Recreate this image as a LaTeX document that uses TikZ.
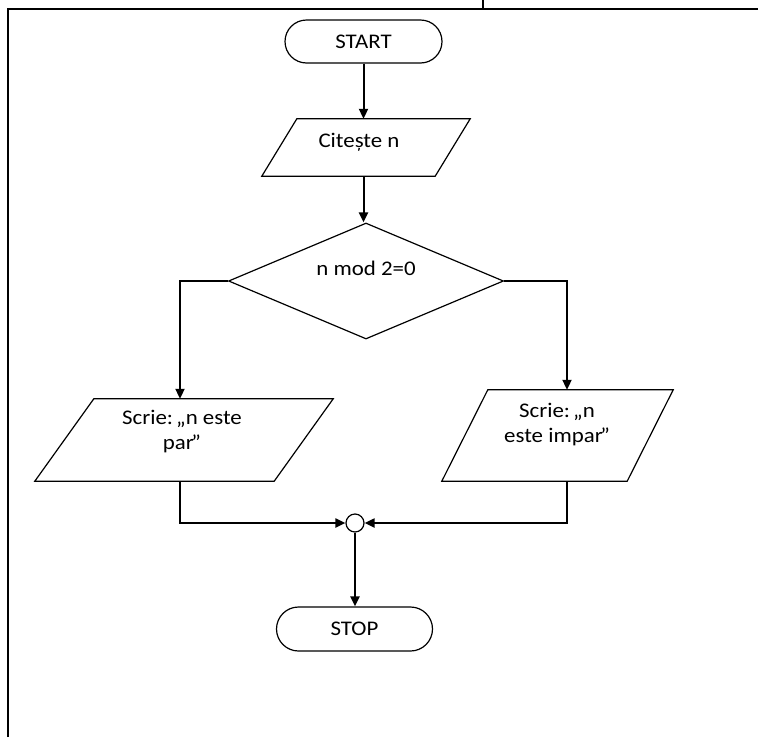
\documentclass[tikz,border=0pt]{standalone}
\usepackage{fontspec}
\setmainfont{Carlito}[FakeStretch=1.1]
\usetikzlibrary{shapes.geometric,shapes.misc,arrows.meta}
\begin{document}
\begin{tikzpicture}[x=1pt,y=-1pt,
  font=\fontsize{20.8}{25}\selectfont,
  outline/.style={draw, line width=1.2pt},
  term/.style={outline, rounded rectangle, inner sep=0pt},
  iobox/.style={rectangle, inner sep=0pt},
  txt/.style={align=center, inner sep=0pt},
  flow/.style={line width=2pt, -{Triangle[length=10pt,width=9pt]}},
  rule/.style={line width=2pt}
]
\useasboundingbox (0,0) rectangle (758,737);

% page frame
\coordinate (fbl) at (8,737);
\coordinate (ftl) at (8,9);
\coordinate (ftr) at (758,9);
\coordinate (fdt) at (483,0);
\coordinate (fdb) at (483,9);
\draw[rule] (fbl) -- (ftl) -- (ftr);
\draw[line width=1.5pt] (fdt) -- (fdb);

% blocks
\node[term, minimum width=157, minimum height=43] (start) at (363.5,41.5) {START};

\node[iobox, minimum width=208, minimum height=57] (read) at (366,147.5) {};
\draw[outline] ([xshift=35]read.north west) -- (read.north east)
  -- ([xshift=-35]read.south east) -- (read.south west) -- cycle;
\node[txt] (readtxt) at (359,142) {Citește n};

\node[outline, diamond, minimum width=275, minimum height=116, inner sep=0pt] (test) at (366,281) {};
\node[txt] (testtxt) at (366,268) {n mod 2=0};

\node[iobox, minimum width=298, minimum height=82] (even) at (184,440) {};
\draw[outline] ([xshift=59]even.north west) -- (even.north east)
  -- ([xshift=-59]even.south east) -- (even.south west) -- cycle;
\node[txt] (eventxt) at (182,432) {Scrie:\kern-2pt\ „n este\\par\kern-2.5pt”};

\node[iobox, minimum width=231, minimum height=91] (odd) at (557.5,435.5) {};
\draw[outline] ([xshift=46]odd.north west) -- (odd.north east)
  -- ([xshift=-46]odd.south east) -- (odd.south west) -- cycle;
\node[txt] (oddtxt) at (557,425) {Scrie:\kern-2pt\ „n\\este impar\kern-2.5pt”};

\node[outline, circle, minimum size=18, inner sep=0pt] (join) at (355,523) {};
\node[term, minimum width=156, minimum height=44] (stop) at (354.5,629) {STOP};

% connectors
\draw[flow] (start.south) -- (start.south |- read.north);
\draw[flow] (start.south |- read.south) -- (start.south |- test.north);
\draw[flow] (test.west) -| ([xshift=-4]even.north);
\draw[flow] (test.east) -| ([xshift=9.5]odd.north);
\draw[flow] ([xshift=-4]even.south) |- (join.west);
\draw[flow] ([xshift=9.5]odd.south) |- (join.east);
\draw[flow] (join.south) -- (join.south |- stop.north);
\end{tikzpicture}
\end{document}
